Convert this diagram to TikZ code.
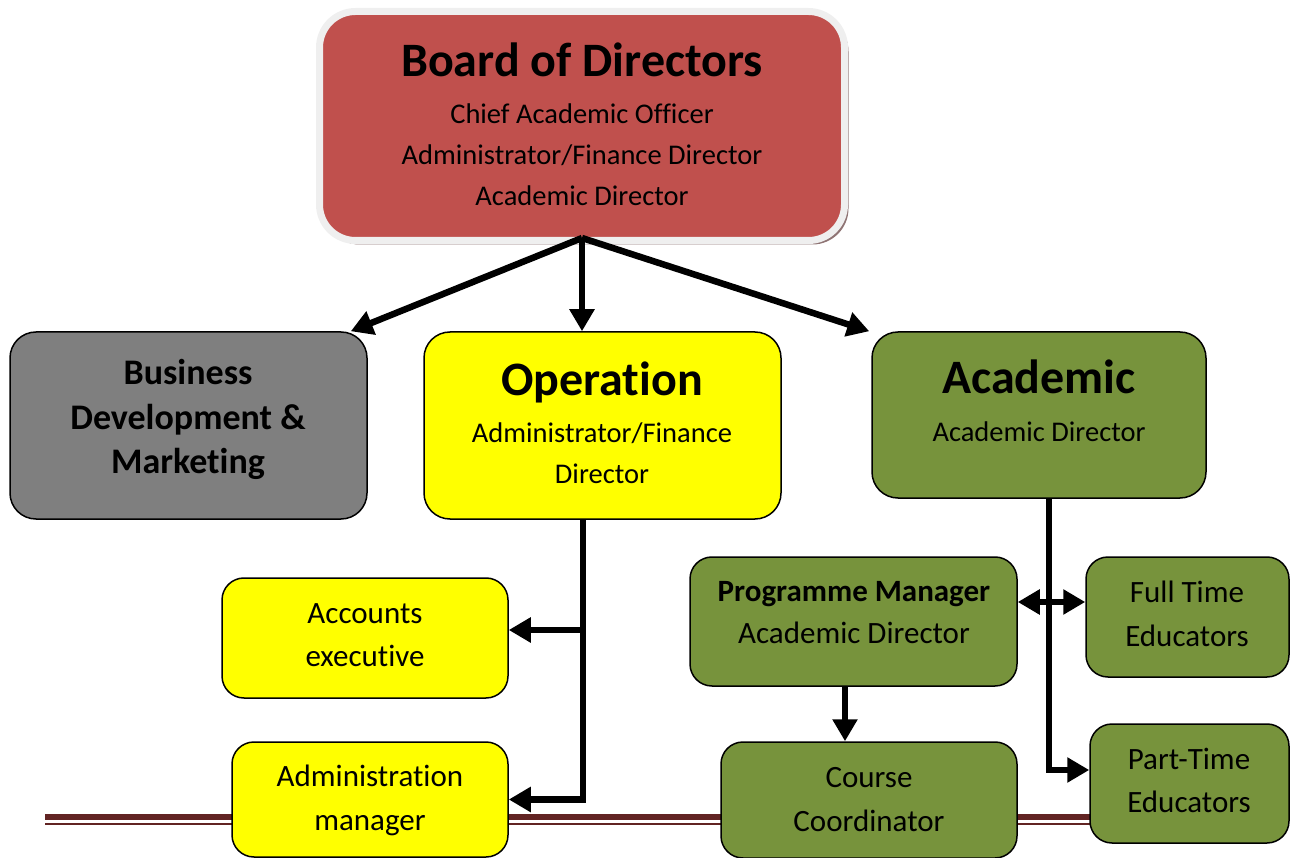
\documentclass[tikz,border=0pt]{standalone}
\usepackage{fontspec}
\setmainfont{Carlito}[Ligatures=NoCommon]
\usetikzlibrary{arrows.meta, shadows}
\definecolor{boardred}{HTML}{C0504D}
\definecolor{boardrim}{HTML}{EFEFEF}
\definecolor{boardshade}{HTML}{8F7474}
\definecolor{bizgray}{HTML}{7F7F7F}
\definecolor{opyellow}{HTML}{FFFF00}
\definecolor{acadgreen}{HTML}{77933C}
\definecolor{rulebrown}{HTML}{622423}
\tikzset{>={Triangle[length=22pt,width=24pt]}}
\tikzset{
  unit/.style={draw=black, line width=1.5pt, rounded corners=26pt, inner sep=0pt},
  caption/.style={align=center, inner sep=0pt, anchor=base},
  link/.style={line width=6.5pt, ->},
}
\newcommand{\headfont}{\fontsize{48}{48}\selectfont\bfseries}

\begin{document}
\begin{tikzpicture}[x=1pt, y=-1pt]
\useasboundingbox (0,0) rectangle (1291,858);
% double rule at the foot
\draw[rulebrown, line width=6pt] (45,817) -- (1092,817);
\draw[rulebrown, line width=2pt] (45,824) -- (1092,824);

% boxes
\node[unit, fill=boardred, draw=boardrim, line width=7pt, rounded corners=36pt,
  minimum width=525pt, minimum height=229pt,
  drop shadow={shadow xshift=4pt, shadow yshift=-4pt, fill=boardshade, opacity=1}] (board) at (582,126) {};
\node[unit, fill=bizgray, minimum width=357pt, minimum height=187pt] (biz) at (188.5,425.5) {};
\node[unit, fill=opyellow, minimum width=357pt, minimum height=187pt] (op) at (602.5,425.5) {};
\node[unit, fill=acadgreen, minimum width=334pt, minimum height=166pt] (acad) at (1039,415) {};
\node[unit, fill=opyellow, minimum width=286pt, minimum height=120pt, rounded corners=22pt] (acc) at (365,638) {};
\node[unit, fill=opyellow, minimum width=276pt, minimum height=115pt, rounded corners=22pt] (adm) at (370,799.5) {};
\node[unit, fill=acadgreen, minimum width=327pt, minimum height=129pt, rounded corners=22pt] (pm) at (853.5,621.5) {};
\node[unit, fill=acadgreen, minimum width=203pt, minimum height=120pt, rounded corners=22pt] (ft) at (1187.5,617) {};
\node[unit, fill=acadgreen, minimum width=199pt, minimum height=119pt, rounded corners=22pt] (pt) at (1189.5,783.5) {};
\node[unit, fill=acadgreen, minimum width=296pt, minimum height=116pt, rounded corners=22pt] (cc) at (869,800) {};

% texts (placed at the baseline of their last line)
\node[caption, font=\fontsize{28.5}{41}\selectfont] (board-t) at (582,206)
  {{\headfont Board of Directors}\\[6pt]Chief Academic Officer\\Administrator/Finance Director\\Academic Director};
\node[caption, font=\fontsize{36}{44.5}\selectfont\bfseries] (biz-t) at (188,474)
  {Business\\Development \&\\Marketing};
\node[caption, font=\fontsize{28.5}{40}\selectfont] (op-t) at (602,483)
  {{\headfont Operation}\\[8pt]Administrator/Finance\\Director};
\node[caption, font=\fontsize{28.5}{40}\selectfont] (acad-t) at (1039,441.5)
  {{\headfont Academic}\\[8pt]Academic Director};
\node[caption, font=\fontsize{31}{43.5}\selectfont] (acc-t) at (365,666.5)
  {Accounts\\executive};
\node[caption, font=\fontsize{31}{43.5}\selectfont] (adm-t) at (370,830)
  {Administration\\manager};
\node[caption, font=\fontsize{31}{42.5}\selectfont] (pm-t) at (854,643.5)
  {\textbf{Programme Manager}\\Academic Director};
\node[caption, font=\fontsize{31}{44}\selectfont] (ft-t) at (1187,646)
  {Full Time\\Educators};
\node[caption, font=\fontsize{31}{43}\selectfont] (pt-t) at (1189,812)
  {Part-Time\\Educators};
\node[caption, font=\fontsize{31}{44}\selectfont] (cc-t) at (869,831)
  {Course\\Coordinator};

% connectors
\coordinate (fork) at ([yshift=6pt]board.south);
\draw[link] (fork) -- ([xshift=-17pt]biz.north east);
\draw[link] (fork) -- (fork |- op.north);
\draw[link] (fork) -- ([xshift=-2pt]acad.north west);

\coordinate (optrunk) at ([xshift=-19.5pt]op.south);
\coordinate (accin) at ([yshift=8pt]acc.east);
\draw[link] (optrunk) |- (adm.east);
\draw[link] (optrunk |- accin) -- (accin);

\coordinate (acadtrunk) at ([xshift=10pt]acad.south);
\coordinate (ptin) at ([yshift=13.5pt]pt.west);
\draw[link] (acadtrunk) |- (ptin);
\draw[link] ([xshift=-8.5pt]pm.south) -- ([xshift=-8.5pt]pm.south |- cc.north);
\coordinate (ftin) at ([yshift=15pt]ft.west);
\draw[link, <->] (pm.east |- ftin) -- (ftin);
\end{tikzpicture}
\end{document}
